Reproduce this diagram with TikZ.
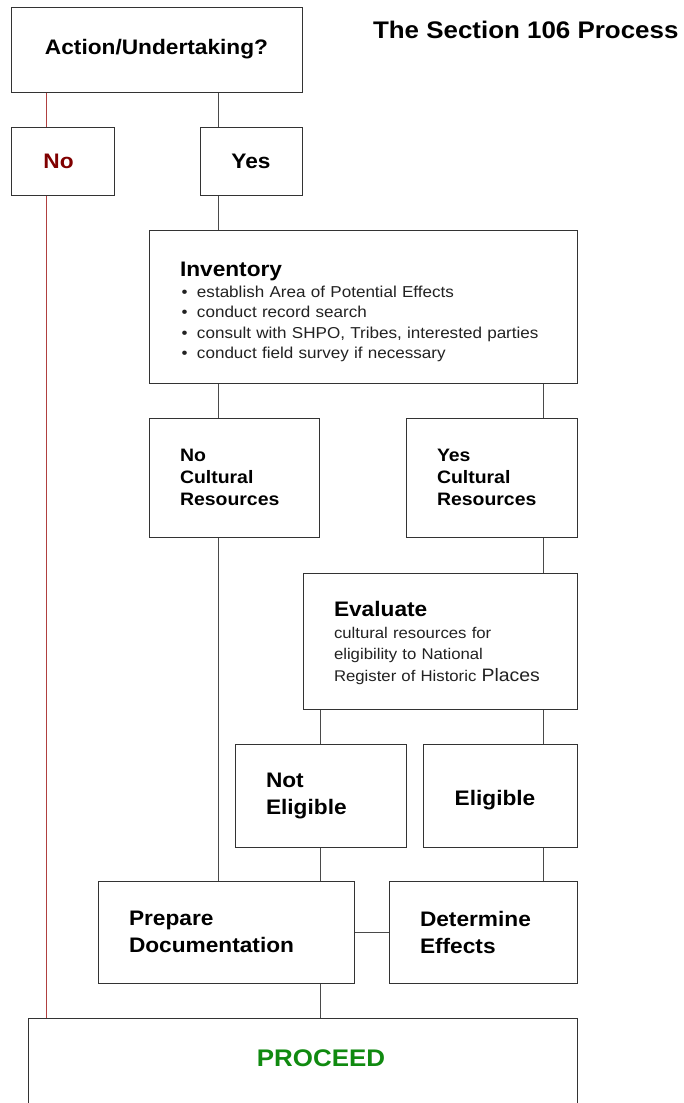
\documentclass[tikz,border=0pt]{standalone}
\usepackage{fontspec}
\setmainfont{Liberation Sans}[FakeStretch=1.08]
\definecolor{boxgray}{HTML}{333333}
\definecolor{linegray}{HTML}{4A4A4A}
\definecolor{noline}{HTML}{B04040}
\definecolor{nored}{HTML}{800000}
\definecolor{okgreen}{HTML}{108A10}
\definecolor{smalltext}{HTML}{222222}
\tikzset{
  box/.style={draw=boxgray, line width=1pt, fill=white, inner ysep=0pt, inner xsep=0pt},
  lbox/.style={box, align=left, inner xsep=31pt},
  conn/.style={draw=linegray, line width=1pt},
  redconn/.style={draw=noline, line width=0.9pt},
  big/.style={font=\fontsize{21}{27}\selectfont\bfseries},
  mid/.style={font=\fontsize{18}{22}\selectfont\bfseries},
  small/.style={font=\fontsize{15.8}{20.5}\selectfont, text=smalltext},
}
\newcommand{\bul}{\hspace*{1.5pt}\makebox[15.5pt][l]{•}}
\newcommand{\headtxt}[1]{{\fontsize{21}{24}\selectfont\bfseries\color{black}#1}}
\begin{document}
\begin{tikzpicture}[x=1pt,y=-1pt]
\useasboundingbox (0,0) rectangle (684,1103);
% boxes
\node[box, big, minimum width=291, minimum height=85] (action) at (156.5,49.5) {Action/Undertaking?};
\node[box, big, text=nored, minimum width=103, minimum height=68] (no) at (62.5,161) {\hspace*{-8pt}No};
\node[box, big, minimum width=102, minimum height=68] (yes) at (251,161) {Yes};
\node[anchor=east, font=\fontsize{24}{28}\selectfont\bfseries] (title) at (682,30) {The Section 106 Process};
\node[lbox, small, text width=366, minimum width=428, minimum height=153] (inv) at (363,306.5)
  {\headtxt{\rule{0pt}{26pt}Inventory}\\
   \bul establish Area of Potential Effects\\
   \bul conduct record search\\
   \bul consult with SHPO, Tribes, interested parties\\
   \bul conduct field survey if necessary};
\node[lbox, mid, text width=108, minimum width=170, minimum height=119] (nocr) at (234,477.5) {No\\Cultural\\Resources};
\node[lbox, mid, text width=109, minimum width=171, minimum height=119] (yescr) at (491.5,477.5) {Yes\\Cultural\\Resources};
\node[lbox, small, font=\fontsize{15.5}{21.5}\selectfont, text width=212, minimum width=274, minimum height=136] (eval) at (440,641)
  {\headtxt{\rule{0pt}{19pt}Evaluate}\\
   cultural resources for\\
   eligibility to National\\
   Register of Historic {\fontsize{18}{21}\selectfont Places}};
\node[lbox, big, text width=109, minimum width=171, minimum height=103] (noteli) at (320.5,795.5) {Not\\Eligible};
\node[box, big, minimum width=154, minimum height=103] (eli) at (500,795.5) {\hspace*{-10pt}\rule{0pt}{25pt}Eligible};
\node[lbox, big, text width=194, minimum width=256, minimum height=102] (prep) at (226,932) {Prepare\\Documentation};
\node[lbox, big, text width=126, minimum width=188, minimum height=102] (det) at (483,932) {Determine\\Effects};
\node[box, minimum width=549, minimum height=90, anchor=north] (proceed) at (302.5,1018) {};
\node[font=\fontsize{24}{28}\selectfont\bfseries, text=okgreen] (proceedtxt) at ([yshift=-40pt]proceed.north -| 321,0) {PROCEED};
% connectors
\draw[redconn] (action.south -| 46,0) -- (no.north -| 46,0);
\draw[redconn] (no.south -| 46,0) -- (proceed.north -| 46,0);
\draw[conn] (action.south -| 218,0) -- (yes.north -| 218,0);
\draw[conn] (yes.south -| 218,0) -- (inv.north -| 218,0);
\draw[conn] (inv.south -| 218,0) -- (nocr.north -| 218,0);
\draw[conn] (inv.south -| 543,0) -- (yescr.north -| 543,0);
\draw[conn] (nocr.south -| 218,0) -- (prep.north -| 218,0);
\draw[conn] (yescr.south -| 543,0) -- (eval.north -| 543,0);
\draw[conn] (eval.south -| 320,0) -- (noteli.north -| 320,0);
\draw[conn] (eval.south -| 543,0) -- (eli.north -| 543,0);
\draw[conn] (noteli.south -| 320,0) -- (prep.north -| 320,0);
\draw[conn] (eli.south -| 543,0) -- (det.north -| 543,0);
\draw[conn] (prep.east) -- (det.west);
\draw[conn] (prep.south -| 320,0) -- (proceed.north -| 320,0);
\end{tikzpicture}
\end{document}
